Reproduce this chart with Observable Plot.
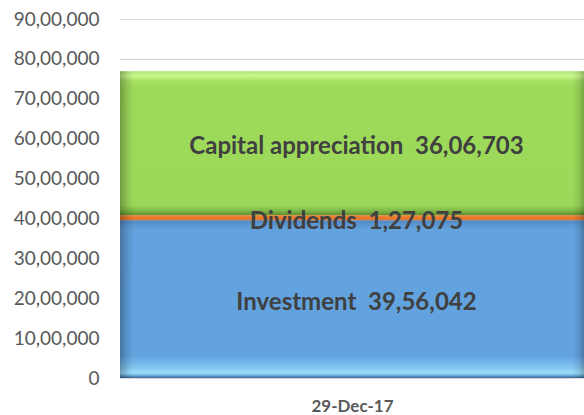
<!DOCTYPE html>
<html>
<head>
<meta charset="utf-8">
<script src="https://cdn.jsdelivr.net/npm/d3@7"></script>
<script src="https://cdn.jsdelivr.net/npm/@observablehq/plot@0.6"></script>
<style>
  html, body { margin: 0; padding: 0; background: #fff; }
  #chart { width: 584px; height: 415px; }
</style>
</head>
<body>
<div id="chart"></div>
<script>
// Data
const dates = ["29-Dec-17"];
const series = ["Investment", "Dividends", "Capital appreciation"];
const values = [3956042, 127075, 3606703];
const yTicks = [0, 1000000, 2000000, 3000000, 4000000, 5000000, 6000000, 7000000, 8000000, 9000000];
const fills = ["url(#gBlue)", "url(#gOrange)", "url(#gGreen)"];

function inr(n) {
  const s = String(Math.round(n));
  if (s.length <= 3) return s;
  const last3 = s.slice(-3);
  let rest = s.slice(0, -3);
  const parts = [];
  while (rest.length > 2) { parts.unshift(rest.slice(-2)); rest = rest.slice(0, -2); }
  if (rest.length) parts.unshift(rest);
  return parts.join(",") + "," + last3;
}

const data = series.map((s, i) => ({
  date: dates[0], series: s, value: values[i], fill: fills[i],
  label: s + "  " + inr(values[i])
}));

const chart = Plot.plot({
  width: 584,
  height: 415,
  marginTop: 19,
  marginBottom: 37,
  marginLeft: 120,
  marginRight: 0,
  style: { fontFamily: "Lato, 'Open Sans', sans-serif", background: "#fff" },
  x: { domain: dates, padding: 0, axis: null },
  y: { domain: [0, 9000000], ticks: yTicks, tickFormat: inr, label: null, tickSize: 0, tickPadding: 21 },
  color: { type: "identity" },
  marks: [
    Plot.gridY(yTicks, { stroke: "#d9d9d9", strokeOpacity: 1, strokeWidth: 1.2 }),
    Plot.barY(data, { x: "date", y: "value", z: "series", fill: "fill", order: null }),
    Plot.barY(data, { x: "date", y: "value", z: "series", fill: "url(#gEdge)", order: null }),
    Plot.text(data, Plot.stackY({ x: "date", y: "value", z: "series", text: "label", order: null,
      fill: "#404040", fontWeight: "bold", fontSize: 24, dx: 4, dy: 3 })),
    Plot.text(dates, { x: d => d, frameAnchor: "bottom", dy: 28, text: d => d,
      fill: "#595959", fontWeight: "bold", fontSize: 17, lineAnchor: "middle" })
  ]
});

chart.insertAdjacentHTML("afterbegin", `
<defs>
  <linearGradient id="gBlue" x1="0" y1="0" x2="0" y2="1">
    <stop offset="0" stop-color="#4b86c2"/>
    <stop offset="0.02" stop-color="#5a93cc"/>
    <stop offset="0.06" stop-color="#62a2de"/>
    <stop offset="0.86" stop-color="#62a3df"/>
    <stop offset="0.93" stop-color="#7fc3ef"/>
    <stop offset="0.965" stop-color="#97dcfb"/>
    <stop offset="0.975" stop-color="#8ccff5"/>
    <stop offset="1" stop-color="#35679c"/>
  </linearGradient>
  <linearGradient id="gGreen" x1="0" y1="0" x2="0" y2="1">
    <stop offset="0" stop-color="#a9e070"/>
    <stop offset="0.03" stop-color="#c9f790"/>
    <stop offset="0.07" stop-color="#a4df62"/>
    <stop offset="0.12" stop-color="#9dda5a"/>
    <stop offset="0.93" stop-color="#9cd95a"/>
    <stop offset="0.97" stop-color="#7fb847"/>
    <stop offset="1" stop-color="#5e8f32"/>
  </linearGradient>
  <linearGradient id="gOrange" x1="0" y1="0" x2="0" y2="1">
    <stop offset="0" stop-color="#f08537"/>
    <stop offset="1" stop-color="#e0732a"/>
  </linearGradient>
  <linearGradient id="gEdge" x1="0" y1="0" x2="1" y2="0">
    <stop offset="0" stop-color="#000" stop-opacity="0.28"/>
    <stop offset="0.018" stop-color="#000" stop-opacity="0.08"/>
    <stop offset="0.03" stop-color="#000" stop-opacity="0"/>
    <stop offset="0.975" stop-color="#000" stop-opacity="0"/>
    <stop offset="0.99" stop-color="#000" stop-opacity="0.1"/>
    <stop offset="1" stop-color="#000" stop-opacity="0.25"/>
  </linearGradient>
</defs>`);

const yLabels = chart.querySelector("g[aria-label='y-axis tick label']");
if (yLabels) { yLabels.setAttribute("fill", "#595959"); yLabels.setAttribute("font-size", "19"); }

document.getElementById("chart").appendChild(chart);
</script>
</body>
</html>
